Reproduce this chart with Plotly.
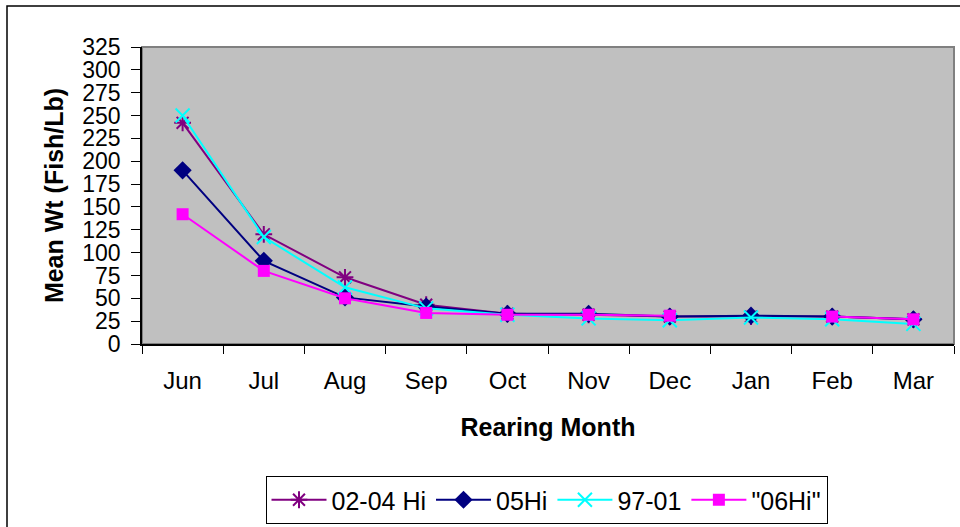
import plotly.graph_objects as go

months = ["Jun", "Jul", "Aug", "Sep", "Oct", "Nov", "Dec", "Jan", "Feb", "Mar"]
s_0204 = [242, 120, 73, 43, 33, 32, 30, 30, 30, 27]
s_05 = [190, 91, 51, 41, 33, 33, 30, 31, 30, 27]
s_9701 = [250, 117, 62, 39, 32, 28, 26, 29, 27, 22]
s_06 = [142, 80, 50, 34, 32, 32, 31, None, 30, 27]

FONT = "Liberation Sans, Arial, sans-serif"

L, R, T, B = 142, 6, 47, 183
W, H = 960, 527
PW, PH = W - L - R, H - T - B

def px(x):
    return (x - L) / PW

def py(y):
    return (H - B - y) / PH

fig = go.Figure()
fig.add_trace(go.Scatter(x=months, y=s_0204, name="02-04 Hi", mode="lines+markers",
                         line=dict(color="#800080", width=2),
                         marker=dict(symbol="asterisk-open", size=14, color="#800080",
                                     line=dict(color="#800080", width=2))))
fig.add_trace(go.Scatter(x=months, y=s_05, name="05Hi", mode="lines+markers",
                         line=dict(color="#000080", width=2),
                         marker=dict(symbol="diamond", size=14, color="#000080")))
fig.add_trace(go.Scatter(x=months, y=s_9701, name="97-01", mode="lines+markers",
                         line=dict(color="#00FFFF", width=2),
                         marker=dict(symbol="x-thin-open", size=14, color="#00FFFF",
                                     line=dict(color="#00FFFF", width=2))))
fig.add_trace(go.Scatter(x=months, y=s_06, name="\"06Hi\"", mode="lines+markers",
                         connectgaps=False,
                         line=dict(color="#FF00FF", width=2),
                         marker=dict(symbol="square", size=12, color="#FF00FF")))

fig.update_layout(
    width=W, height=H,
    margin=dict(l=L, r=R, t=T, b=B, autoexpand=False),
    paper_bgcolor="white",
    plot_bgcolor="#C0C0C0",
    font=dict(family=FONT, size=23, color="black"),
    showlegend=True,
    legend=dict(orientation="h", x=px(546.5), xanchor="center", y=py(476), yanchor="top",
                bordercolor="black", borderwidth=1, bgcolor="white",
                font=dict(size=25, family=FONT), itemwidth=55, tracegroupgap=0),
    shapes=[
        dict(type="rect", xref="paper", yref="paper", x0=0, x1=1, y0=0, y1=1,
             line=dict(color="#808080", width=2), layer="below"),
        dict(type="rect", xref="paper", yref="paper", x0=px(7), x1=px(968), y0=py(540), y1=py(6),
             line=dict(color="black", width=1.5), layer="below"),
    ],
)

fig.update_xaxes(
    type="category", range=[-0.5, 9.5], showgrid=False, zeroline=False,
    showline=True, linecolor="black", linewidth=1.5,
    ticks="outside", ticklen=8, tickcolor="black", tickwidth=1, tickson="boundaries",
    tickfont=dict(size=24, family=FONT), ticklabelstandoff=14,
    title=dict(text="<b>Rearing Month</b>", font=dict(size=25, family=FONT), standoff=26),
)
fig.update_yaxes(
    range=[0, 325], dtick=25, tick0=0, showgrid=False, zeroline=False,
    showline=True, linecolor="black", linewidth=1.5,
    ticks="outside", ticklen=9, tickcolor="black", tickwidth=1,
    tickfont=dict(size=23, family=FONT), ticklabelstandoff=6,
    title=dict(text="<b>Mean Wt (Fish/Lb)</b>", font=dict(size=25, family=FONT), standoff=12),
)

fig.write_html("out.html", config={"displayModeBar": False},
               post_script="document.body.style.margin='0';")
